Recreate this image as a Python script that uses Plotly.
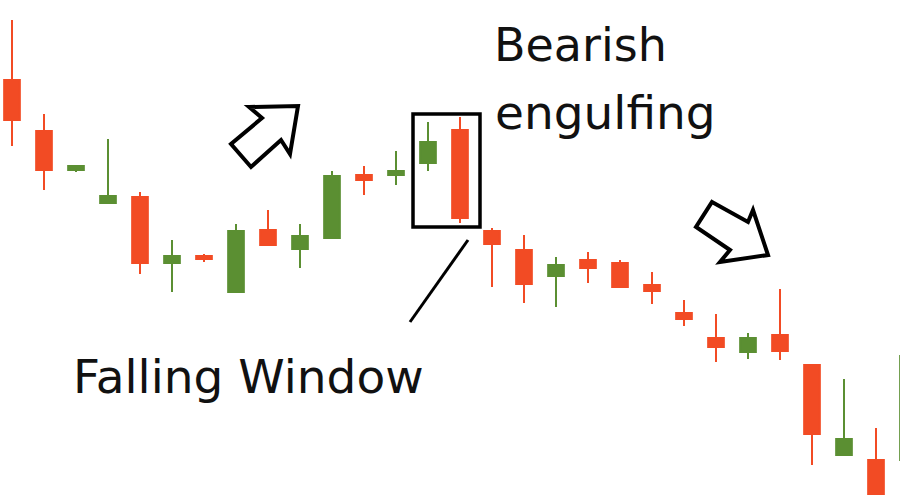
import plotly.graph_objects as go

# Candle data (arbitrary price units)
idx = list(range(29))
opens  = [420, 369, 330, 297, 303, 237, 244, 208, 270, 251, 262, 325, 325, 337, 370,
          269, 250, 224, 240, 237, 215, 187, 162, 148, 165, 135, 45, 40, 40]
highs  = [480, 386, 334, 361, 308, 260, 246, 276, 290, 276, 329, 334, 349, 378, 383,
          272, 265, 243, 248, 240, 228, 200, 186, 167, 211, 135, 121, 72, 150]
lows   = [354, 310, 328, 297, 226, 208, 238, 208, 255, 232, 262, 305, 315, 329, 277,
          213, 197, 193, 217, 212, 196, 174, 138, 141, 140, 35, 45, 6, 40]
closes = [380, 330, 334, 304, 237, 244, 241, 269, 255, 264, 324, 320, 329, 358, 282,
          256, 216, 235, 232, 213, 209, 181, 153, 162, 149, 66, 61, 6, 144]

RED = "#F24B24"
GREEN = "#5B8F32"

W, H = 900, 500


def px(x, y):
    return x / W, 1 - y / H


def path(points):
    s = ""
    for i, (x, y) in enumerate(points):
        X, Y = px(x, y)
        s += ("M" if i == 0 else "L") + f"{X:.5f},{Y:.5f} "
    return s + "Z"


fig = go.Figure(go.Candlestick(
    x=idx, open=opens, high=highs, low=lows, close=closes,
    increasing=dict(line=dict(color=GREEN, width=2), fillcolor=GREEN),
    decreasing=dict(line=dict(color=RED, width=2), fillcolor=RED),
    whiskerwidth=0, hoverinfo="skip",
))

up_arrow = [(249, 107), (298, 106), (290, 154), (281, 140), (251, 167), (231, 144), (262, 118)]
down_arrow = [(712, 202), (748, 222), (753, 210), (768, 255), (720, 262), (730, 250), (696, 227)]

r0 = px(413, 114)
r1 = px(480, 227)
l0 = px(468, 240)
l1 = px(410, 322)

shapes = [
    dict(type="path", xref="paper", yref="paper", path=path(up_arrow),
         line=dict(color="black", width=4), fillcolor="white"),
    dict(type="path", xref="paper", yref="paper", path=path(down_arrow),
         line=dict(color="black", width=4), fillcolor="white"),
    dict(type="rect", xref="paper", yref="paper", x0=r0[0], y0=r1[1], x1=r1[0], y1=r0[1],
         line=dict(color="black", width=3.5), fillcolor="rgba(0,0,0,0)"),
    dict(type="line", xref="paper", yref="paper", x0=l0[0], y0=l0[1], x1=l1[0], y1=l1[1],
         line=dict(color="black", width=3)),
]

FONT = "DejaVu Sans"
annotations = [
    dict(text="Bearish", xref="paper", yref="paper", x=px(492, 0)[0], y=px(0, 45)[1],
         xanchor="left", yanchor="middle", showarrow=False,
         font=dict(family=FONT, size=46, color="#111")),
    dict(text="engulfing", xref="paper", yref="paper", x=px(493, 0)[0], y=px(0, 113)[1],
         xanchor="left", yanchor="middle", showarrow=False,
         font=dict(family=FONT, size=47, color="#111")),
    dict(text="Falling Window", xref="paper", yref="paper", x=px(71, 0)[0], y=px(0, 376)[1],
         xanchor="left", yanchor="middle", showarrow=False,
         font=dict(family=FONT, size=47, color="#111")),
]

fig.update_layout(
    width=W, height=H,
    margin=dict(l=0, r=0, t=0, b=0, pad=0),
    paper_bgcolor="white", plot_bgcolor="white",
    showlegend=False,
    shapes=shapes, annotations=annotations,
    xaxis=dict(range=[-0.375, 27.75], visible=False, rangeslider=dict(visible=False),
               showgrid=False, zeroline=False),
    yaxis=dict(range=[0, 500], visible=False, showgrid=False, zeroline=False),
)

fig.write_html("out.html", config={"displayModeBar": False},
               post_script="document.body.style.margin='0';")
